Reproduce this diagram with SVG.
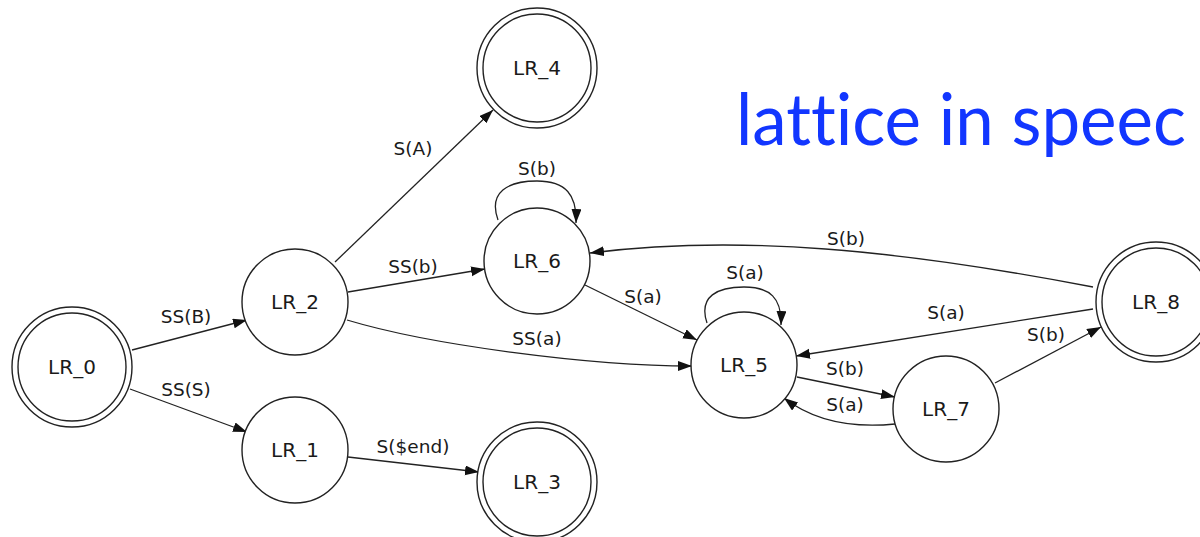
<svg xmlns="http://www.w3.org/2000/svg" width="1200" height="537" viewBox="0 0 1200 537">
<defs>
<marker id="arr" markerUnits="userSpaceOnUse" markerWidth="16" markerHeight="12" refX="14" refY="5" orient="auto">
<path d="M0,0 L14,5 L0,10 Z" fill="#111"/>
</marker>
<style>
.n{fill:#fff;stroke:#222;stroke-width:1.4}
.nl{font-family:"DejaVu Sans",sans-serif;font-size:20px;fill:#1a1a1a;text-anchor:middle}
.e{fill:none;stroke:#222;stroke-width:1.3;marker-end:url(#arr)}
.el{font-family:"DejaVu Sans",sans-serif;font-size:18.5px;fill:#1a1a1a;text-anchor:middle}
.title{font-family:Lato,"Open Sans",sans-serif;font-size:71px;fill:#1236ff;font-variant-ligatures:none;font-feature-settings:"liga" 0}
</style>
</defs>
<rect width="1200" height="537" fill="#fff"/>
<g id="connectors">
<path class="e" d="M132,350 L247,320"/>
<text class="el" x="186" y="323">SS(B)</text>
<path class="e" d="M130,389 L247,432"/>
<text class="el" x="186" y="396">SS(S)</text>
<path class="e" d="M335,262 L493,110"/>
<text class="el" x="413" y="155">S(A)</text>
<path class="e" d="M348,292 L485,269"/>
<text class="el" x="413" y="273">SS(b)</text>
<path class="e" d="M347,320 C430,345 590,366 692,366"/>
<text class="el" x="537" y="345">SS(a)</text>
<path class="e" d="M498,220 C488,192 508,181 537,181 C566,181 577,195 576,223"/>
<text class="el" x="537" y="175">S(b)</text>
<path class="e" d="M585,285 L697,340"/>
<text class="el" x="643" y="303">S(a)</text>
<path class="e" d="M707,323 C698,296 718,287 744,287 C770,287 782,298 781,325"/>
<text class="el" x="745" y="279">S(a)</text>
<path class="e" d="M1093,287 C900,250 740,234 590,253"/>
<text class="el" x="846" y="245">S(b)</text>
<path class="e" d="M1093,309 L796,356"/>
<text class="el" x="946" y="319">S(a)</text>
<path class="e" d="M797,377 L895,397"/>
<text class="el" x="845" y="375">S(b)</text>
<path class="e" d="M895,424 C855,428 815,422 784,398"/>
<text class="el" x="845" y="411">S(a)</text>
<path class="e" d="M995,383 L1101,327"/>
<text class="el" x="1046" y="341">S(b)</text>
<path class="e" d="M348,457 L479,472"/>
<text class="el" x="413" y="453">S($end)</text>
</g>
<g id="LR_0"><circle class="n" cx="72" cy="367" r="60"/><circle class="n" cx="72" cy="367" r="54"/><text class="nl" x="72" y="374">LR_0</text></g>
<g id="LR_1"><circle class="n" cx="295" cy="450" r="53"/><text class="nl" x="295" y="457">LR_1</text></g>
<g id="LR_2"><circle class="n" cx="295" cy="302" r="53"/><text class="nl" x="295" y="309">LR_2</text></g>
<g id="LR_3"><circle class="n" cx="537" cy="482" r="60"/><circle class="n" cx="537" cy="482" r="54"/><text class="nl" x="537" y="489">LR_3</text></g>
<g id="LR_4"><circle class="n" cx="537" cy="68" r="60"/><circle class="n" cx="537" cy="68" r="54"/><text class="nl" x="537" y="75">LR_4</text></g>
<g id="LR_5"><circle class="n" cx="744" cy="365" r="53"/><text class="nl" x="744" y="372">LR_5</text></g>
<g id="LR_6"><circle class="n" cx="537" cy="261" r="53"/><text class="nl" x="537" y="268">LR_6</text></g>
<g id="LR_7"><circle class="n" cx="946" cy="409" r="53"/><text class="nl" x="946" y="416">LR_7</text></g>
<g id="LR_8"><circle class="n" cx="1156" cy="302" r="60"/><circle class="n" cx="1156" cy="302" r="54"/><text class="nl" x="1156" y="309">LR_8</text></g>
<text class="title" x="736" y="145" textLength="450" lengthAdjust="spacingAndGlyphs">lattice in speec</text>
</svg>
